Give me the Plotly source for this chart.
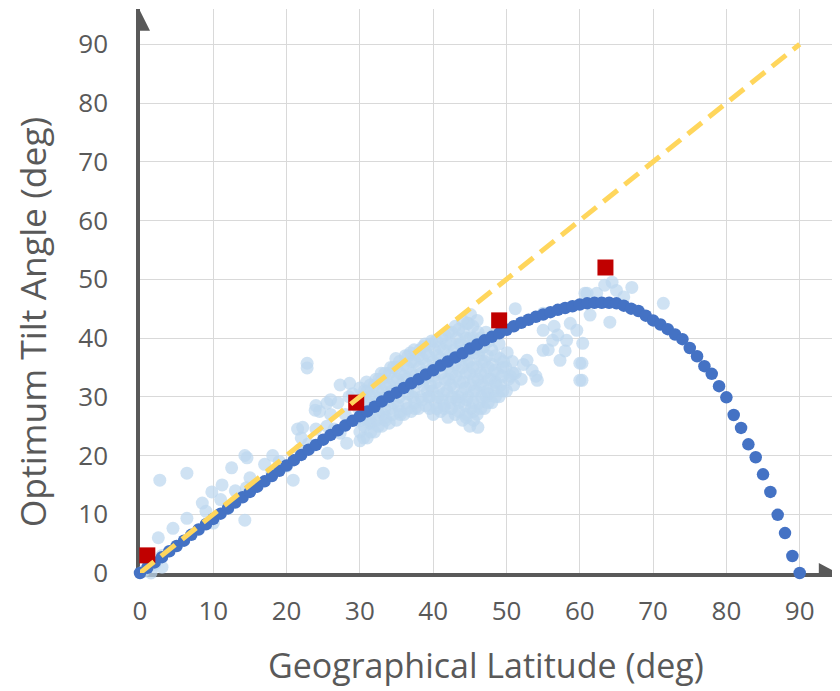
import plotly.graph_objects as go

# Model curve: optimum tilt angle at each integer latitude
curve_lat = list(range(0, 91))
curve_tilt = [0, 0.9, 1.8, 2.7, 3.7, 4.6, 5.5, 6.5, 7.4, 8.3,
              9.2, 10.1, 11.0, 12.0, 12.9, 13.8, 14.7, 15.6, 16.5, 17.4,
              18.3, 19.2, 20.1, 21.0, 21.8, 22.7, 23.5, 24.3, 25.1, 25.9,
              26.7, 27.5, 28.3, 29.2, 30.0, 30.7, 31.5, 32.3, 33.0, 33.8,
              34.5, 35.3, 36.0, 36.7, 37.4, 38.2, 38.9, 39.6, 40.2, 40.8,
              41.4, 42.0, 42.6, 43.1, 43.6, 44.0, 44.4, 44.8, 45.1, 45.4,
              45.7, 45.9, 46.0, 46.0, 46.0, 45.9, 45.5, 45.0, 44.6, 43.8,
              43.0, 42.3, 41.5, 40.6, 39.8, 38.3, 36.9, 35.2, 33.9, 31.8,
              29.9, 26.9, 24.7, 21.9, 19.7, 16.8, 13.8, 9.9, 6.8, 2.9, 0]

# Measured / reported site data (light cloud)
site_lat = [0.5, 1.5, 2.0, 3.0, 2.5, 4.5, 3.0, 2.7, 6.4, 6.4, 8.5, 9.8, 11.2, 12.5, 14.3, 14.3,
            9.0, 10.0, 11.0, 12.0, 13.0, 14.5, 15.0, 16.0, 17.0, 18.0, 18.1, 19.0, 14.6, 20.0,
            20.9, 22.2, 22.8, 22.8, 23.9, 25.5, 27.3, 28.6, 27.3, 28.2, 25.6, 25.0, 21.8, 21.5,
            22.0, 23.0, 24.0, 24.5, 25.5, 26.0, 26.5, 27.0, 28.0, 29.0, 29.5, 24.0, 26.0, 28.5,
            30.0, 30.0, 30.2, 29.8, 30.4, 30.0,
            31.0, 31.2, 30.8, 31.1, 31.0, 30.9,
            32.0, 32.3, 31.9, 32.1, 32.0, 32.2,
            33.0, 33.2, 32.8, 33.1, 33.0, 32.9,
            34.0, 34.3, 33.9, 34.1, 34.0, 34.2,
            35.0, 35.2, 34.8, 35.1, 35.0, 34.9,
            36.0, 36.3, 35.9, 36.1, 36.0, 36.2,
            37.0, 37.2, 36.8, 37.1, 37.0, 36.9,
            38.0, 38.3, 37.9, 38.1, 38.0, 38.2,
            39.0, 39.2, 38.8, 39.1, 39.0, 38.9,
            40.0, 40.3, 39.9, 40.1, 40.0, 40.2, 39.8,
            41.0, 41.2, 40.8, 41.1, 41.0, 40.9, 41.2,
            42.0, 42.3, 41.9, 42.1, 42.0, 42.2, 41.8, 42.1,
            43.0, 43.2, 42.8, 43.1, 43.0, 42.9, 43.2, 43.0,
            44.0, 44.3, 43.9, 44.1, 44.0, 44.2, 43.8, 44.1, 44.0,
            45.0, 45.2, 44.8, 45.1, 45.0, 44.9, 45.2, 45.0, 44.8, 45.1,
            46.0, 46.3, 45.9, 46.1, 46.0, 46.2, 45.8, 46.1, 46.0,
            47.0, 47.2, 46.8, 47.1, 47.0, 46.9, 47.2,
            48.0, 48.3, 47.9, 48.1, 48.0, 48.2,
            49.0, 49.2, 48.8, 49.1, 49.0,
            50.0, 50.3, 49.9, 50.1,
            51.0, 51.2, 50.8, 52.0, 52.3,
            46.1, 44.5, 37.5, 35.5, 33.5, 31.5, 43.5, 39.5, 41.5, 45.5, 47.5, 48.5, 50.5,
            51.2, 55.0, 55.0, 52.8, 49.5, 50.9, 54.2, 57.3, 58.2, 59.6, 60.0, 60.0, 60.7, 58.7,
            56.3, 55.7, 58.0, 55.0, 53.5, 56.5, 54.0, 57.0,
            64.1, 71.4, 67.1, 64.4, 65.0, 62.3, 61.0, 61.4, 60.4, 60.3, 60.3, 63.4, 66.0,
            30.5, 30.6, 30.4, 30.5, 30.6,
            31.5, 31.4, 31.6, 31.5, 31.4,
            32.5, 32.6, 32.4, 32.5, 32.6,
            33.5, 33.4, 33.6, 33.5, 33.4,
            34.5, 34.6, 34.4, 34.5, 34.6,
            35.5, 35.4, 35.6, 35.5, 35.4,
            36.5, 36.6, 36.4, 36.5, 36.6,
            37.5, 37.4, 37.6, 37.5, 37.4,
            38.5, 38.6, 38.4, 38.5, 38.6,
            39.5, 39.4, 39.6, 39.5, 39.4, 39.6,
            40.5, 40.6, 40.4, 40.5, 40.6, 40.4,
            41.5, 41.4, 41.6, 41.5, 41.4, 41.6,
            42.5, 42.6, 42.4, 42.5, 42.6, 42.4, 42.5,
            43.5, 43.4, 43.6, 43.5, 43.4, 43.6, 43.5,
            44.5, 44.6, 44.4, 44.5, 44.6, 44.4, 44.5, 44.6,
            45.5, 45.4, 45.6, 45.5, 45.4, 45.6, 45.5, 45.4,
            46.5, 46.6, 46.4, 46.5, 46.6, 46.4, 46.5,
            47.5, 47.4, 47.6, 47.5, 47.4, 47.6,
            48.5, 48.6, 48.4, 48.5,
            49.5, 49.4, 49.6]
site_tilt = [0.3, 0.0, 1.5, 1.0, 6.0, 7.6, 3.0, 15.8, 17.0, 9.3, 11.9, 13.8, 15.0, 17.9, 20.0, 9.0,
             10.5, 8.5, 12.5, 11.0, 14.0, 14.5, 16.2, 15.0, 18.5, 17.2, 20.0, 19.0, 19.6, 18.2,
             15.8, 24.8, 35.7, 34.9, 27.7, 28.9, 32.0, 32.3, 23.8, 22.1, 20.4, 17.0, 21.0, 24.5,
             23.0, 22.0, 24.5, 27.5, 25.0, 27.0, 24.5, 29.0, 27.0, 30.5, 26.0, 28.5, 29.5, 30.0,
             22.5, 24.0, 26.0, 28.0, 30.0, 31.5,
             23.0, 25.5, 27.0, 29.0, 31.0, 32.5,
             24.0, 26.0, 28.0, 30.0, 32.0, 33.0,
             25.0, 27.0, 29.0, 31.0, 33.0, 34.0,
             25.5, 28.0, 30.0, 32.0, 34.0, 35.0,
             26.0, 28.5, 31.0, 33.0, 35.0, 36.5,
             27.0, 29.0, 31.5, 33.5, 35.5, 37.0,
             27.5, 30.0, 32.0, 34.0, 36.0, 37.5,
             28.0, 30.0, 32.5, 35.0, 37.0, 38.0,
             28.5, 31.0, 33.0, 35.5, 37.5, 39.0,
             27.0, 29.0, 31.0, 33.5, 36.0, 38.0, 39.5,
             27.5, 29.5, 31.5, 34.0, 36.5, 38.5, 40.0,
             26.5, 29.0, 31.0, 33.0, 35.0, 37.0, 39.0, 41.0,
             27.0, 29.5, 31.5, 33.5, 35.5, 38.0, 40.0, 42.0,
             26.0, 28.5, 30.5, 32.5, 35.0, 37.0, 39.0, 41.0, 43.0,
             25.0, 28.0, 30.0, 32.0, 34.0, 36.0, 38.0, 40.0, 42.5, 44.0,
             27.0, 29.0, 31.0, 33.0, 35.0, 37.0, 39.0, 41.0, 43.0,
             28.0, 30.0, 32.0, 34.0, 36.0, 38.5, 41.0,
             29.0, 31.0, 33.0, 35.5, 38.0, 40.5,
             30.0, 32.0, 34.0, 36.5, 39.0,
             31.0, 33.0, 35.0, 37.5,
             32.0, 34.0, 36.0, 33.0, 35.5,
             24.8, 26.5, 28.0, 27.0, 26.5, 25.5, 29.0, 30.0, 28.5, 27.5, 30.5, 32.5, 33.5,
             45.0, 41.3, 37.9, 36.2, 35.0, 34.0, 32.8, 36.2, 39.6, 41.3, 35.7, 32.8, 47.6, 42.5,
             39.6, 38.0, 37.8, 44.2, 34.5, 42.0, 33.5, 40.5,
             42.7, 45.9, 48.6, 49.5, 48.1, 47.6, 47.6, 43.9, 39.1, 35.7, 32.8, 49.0, 47.0,
             23.0, 25.0, 27.0, 29.0, 31.0,
             24.0, 26.0, 28.0, 30.0, 32.0,
             25.0, 27.0, 29.0, 31.0, 33.0,
             26.0, 28.0, 30.0, 32.0, 34.0,
             27.0, 29.0, 31.0, 33.0, 35.0,
             27.5, 30.0, 32.0, 34.0, 36.0,
             28.0, 30.5, 33.0, 35.0, 37.0,
             29.0, 31.0, 33.5, 36.0, 38.0,
             29.5, 32.0, 34.0, 36.5, 38.5,
             28.0, 30.0, 32.0, 34.5, 37.0, 39.0,
             28.0, 30.0, 32.5, 35.0, 37.0, 39.5,
             28.0, 30.5, 33.0, 35.5, 38.0, 40.5,
             28.0, 30.0, 32.0, 34.0, 36.5, 39.0, 41.0,
             27.5, 30.0, 32.5, 34.5, 37.0, 39.0, 41.5,
             27.0, 29.5, 31.5, 34.0, 36.0, 38.0, 40.0, 42.5,
             26.0, 29.0, 31.0, 33.0, 35.0, 37.5, 40.0, 42.0,
             28.0, 30.0, 32.0, 34.0, 36.0, 38.0, 40.0,
             29.0, 31.0, 33.0, 35.0, 37.0, 39.5,
             30.0, 32.0, 34.5, 37.0,
             31.0, 33.5, 36.0]

# Reference sites (red squares)
ref_lat = [1.0, 29.5, 49.0, 63.5]
ref_tilt = [3.0, 29.0, 43.0, 52.0]

# Rule of thumb: tilt = latitude
diag_lat = [0, 90]
diag_tilt = [0, 90]

tick_vals = [0, 10, 20, 30, 40, 50, 60, 70, 80, 90]
tick_text = ["0", "10", "20", "30", "40", "50", "60", "70", "80", "90"]

axis_color = "#595959"
grid_color = "#D9D9D9"
font_family = "Open Sans, DejaVu Sans, sans-serif"

fig = go.Figure()

fig.add_trace(go.Scatter(
    x=site_lat, y=site_tilt, mode="markers",
    marker=dict(size=13, color="rgb(189,215,238)", opacity=0.72, line=dict(width=0)),
    cliponaxis=False, showlegend=False, hoverinfo="skip"))

fig.add_trace(go.Scatter(
    x=curve_lat, y=curve_tilt, mode="markers",
    marker=dict(size=12.5, color="#4472C4", line=dict(width=0)),
    cliponaxis=False, showlegend=False))

fig.add_trace(go.Scatter(
    x=ref_lat, y=ref_tilt, mode="markers",
    marker=dict(size=16, symbol="square", color="#C00000", line=dict(width=0)),
    cliponaxis=False, showlegend=False))

fig.add_trace(go.Scatter(
    x=diag_lat, y=diag_tilt, mode="lines",
    line=dict(color="#FFD65C", width=5, dash="18px,9px"),
    cliponaxis=False, showlegend=False))

# Arrowheads at the ends of the axes
shapes = [
    dict(type="path", xref="x", yref="y", xsizemode="pixel", ysizemode="pixel",
         xanchor=95.2, yanchor=0, path="M -19 -10 L 0 0 L -19 10 Z",
         fillcolor=axis_color, line=dict(width=0), layer="above"),
    dict(type="path", xref="x", yref="y", xsizemode="pixel", ysizemode="pixel",
         xanchor=0, yanchor=95.7, path="M -10 -20 L 0 0 L 10 -20 Z",
         fillcolor=axis_color, line=dict(width=0), layer="above"),
]

# The page adds an 8px body margin, so the figure is 8px smaller than the window
fig.update_layout(
    width=832, height=683,
    margin=dict(l=132, r=0, t=1, b=118),
    paper_bgcolor="white", plot_bgcolor="white",
    font=dict(family=font_family, color=axis_color),
    shapes=shapes,
    annotations=[
        dict(text="Geographical Latitude (deg)", xref="paper", yref="paper",
             x=0.494, y=-0.163, xanchor="center", yanchor="middle", showarrow=False,
             font=dict(size=34, color=axis_color, family=font_family)),
        dict(text="Optimum Tilt Angle (deg)", xref="paper", yref="paper",
             x=-0.153, y=0.446, xanchor="center", yanchor="middle", showarrow=False,
             textangle=-90, font=dict(size=35.5, color=axis_color, family=font_family)),
    ],
)

fig.update_xaxes(range=[0, 95.5], tickvals=tick_vals, ticktext=tick_text,
                 showgrid=True, gridcolor=grid_color, gridwidth=1,
                 zeroline=False, showline=True, linecolor=axis_color, linewidth=3.5,
                 layer="below traces", ticks="", automargin=False,
                 ticklabelstandoff=12, tickfont=dict(size=26, color=axis_color))
fig.update_yaxes(range=[0, 96], tickvals=tick_vals, ticktext=tick_text,
                 showgrid=True, gridcolor=grid_color, gridwidth=1,
                 zeroline=False, showline=True, linecolor=axis_color, linewidth=3.5,
                 layer="below traces", ticks="", automargin=False,
                 ticklabelstandoff=23, tickfont=dict(size=26, color=axis_color))

fig.write_html("out.html")
